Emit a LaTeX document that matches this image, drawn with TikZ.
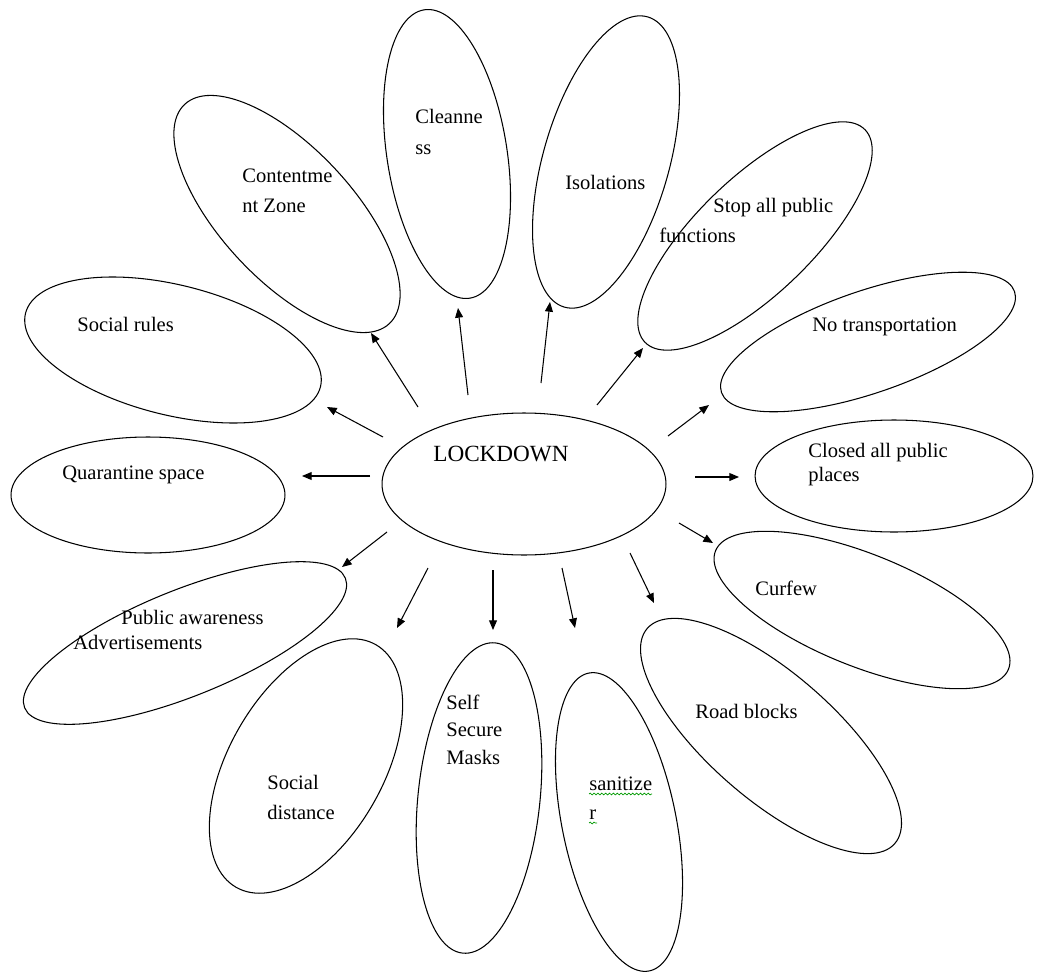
\documentclass[tikz,border=0pt]{standalone}
\usepackage{fontspec}
\setmainfont{Liberation Serif}
\usetikzlibrary{shapes.geometric, arrows.meta, decorations.pathmorphing}

\tikzset{
  petal/.style={draw, ellipse, line width=0.6pt, inner sep=0pt},
  lbl/.style={anchor=base west, inner sep=0pt, font=\fontsize{11.7}{14}\selectfont},
  arr/.style={-{Triangle[length=5.5pt,width=4.5pt]}, line width=0.6pt}
}

\begin{document}
\begin{tikzpicture}[x=0.02cm, y=-0.02cm]
			\useasboundingbox (0,0) rectangle (1037,973);

			% centre
			\node[petal, minimum width=5.68cm, minimum height=2.84cm] (lock) at (524,484) {};
			\node[lbl, font=\fontsize{13.2}{16}\selectfont] (locktxt) at (433,461) {LOCKDOWN};

			% petals
			\foreach \n/\x/\y/\w/\h/\r in {
				quar/148/495/5.48/2.32/0,
				rules/173/350/6.08/2.6/-14,
				zone/287/214/6.0/2.64/-47,
				clean/447/154/5.84/2.4/99,
				iso/606/162/6.04/2.52/74,
				stop/755/236/6.12/2.32/44,
				trans/868/342/6.2/2.04/19,
				closed/894/476/5.56/2.24/0,
				curfew/862/610/6.32/2.24/-22,
				road/771/736/6.56/2.52/-41,
				sanit/619/822/6.08/2.28/101.5,
				masks/479/798/6.24/2.44/84,
				dist/306/766/5.6/3.08/60,
				aware/185/643/6.92/2.12/22
			}{
				\node[petal, minimum width=\w cm, minimum height=\h cm, rotate=\r] (\n) at (\x,\y) {};
			}

			% labels
			\foreach \x/\y/\t [count=\i] in {
				62/479/Quarantine space,
				77/331/Social rules,
				242/183/Contentme,
				242/213/nt Zone,
				415/124/Cleanne,
				415/155/ss,
				565/190/Isolations,
				713/213/Stop all public,
				659/242/functions,
				812/331/No transportation,
				808/457/Closed all public,
				808/481/places,
				755/595/Curfew,
				695/718/Road blocks,
				589/790/sanitize,
				589/819/r,
				446/709/Self,
				446/736/Secure,
				446/764/Masks,
				267/789/Social,
				267/819/distance,
				121/624/Public awareness,
				73/649/Advertisements
			}{
				\node[lbl] (t\i) at (\x,\y) {\t};
			}

			% spell check marks
			\draw[green!60!black, line width=0.4pt, decorate, decoration={snake, amplitude=0.5pt, segment length=2.2pt}]
				(t15.base west) ++(0,4) -- ++(63,0);
			\draw[green!60!black, line width=0.4pt, decorate, decoration={snake, amplitude=0.5pt, segment length=2.2pt}]
				(t16.base west) ++(0,4) -- ++(8,0);

			% arrows
			\foreach \i/\sx/\sy/\ex/\ey in {
				1/370/476/302/476,
				2/383/437/327/407,
				3/418/407/371/333,
				4/468/395/458/308,
				5/541/383/550/302,
				6/597/405/643/348,
				7/668/436/709/405,
				8/695/477/739/477,
				9/679/523/713/543,
				10/630/553/654/603,
				11/562/568/575/628,
				12/493/570/493/630,
				13/428/568/397/628,
				14/387/532/342/567
			}{
				\coordinate (s\i) at (\sx,\sy);
				\coordinate (e\i) at (\ex,\ey);
				\draw[arr] (s\i) -- (e\i);
			}
\end{tikzpicture}
\end{document}
